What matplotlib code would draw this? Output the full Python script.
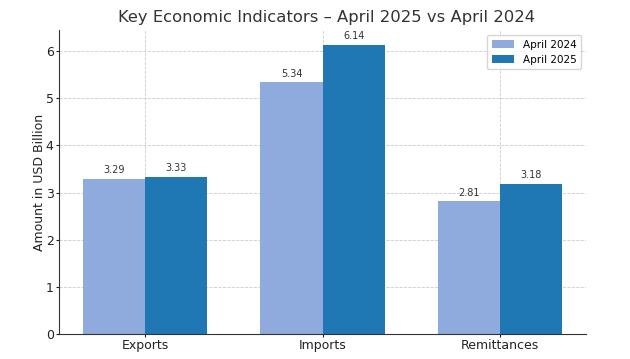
import matplotlib
matplotlib.use("Agg")
import matplotlib.pyplot as plt
import numpy as np

categories = ["Exports", "Imports", "Remittances"]
april_2024 = [3.29, 5.34, 2.81]
april_2025 = [3.33, 6.14, 3.18]
series_labels = ["April 2024", "April 2025"]

fig, ax = plt.subplots(figsize=(6.3, 3.59), dpi=100)
x = np.arange(len(categories))
w = 0.35
b1 = ax.bar(x - w/2, april_2024, w, label=series_labels[0], color="#8faadc")
b2 = ax.bar(x + w/2, april_2025, w, label=series_labels[1], color="#1f77b4")
for bars, vals in ((b1, april_2024), (b2, april_2025)):
    for r, v in zip(bars, vals):
        ax.text(r.get_x() + r.get_width()/2, v + 0.08, f"{v:.2f}",
                ha="center", va="bottom", fontsize=7, color="#333333")

ax.set_xticks(x)
ax.set_xticklabels(categories, fontsize=9)
ax.set_ylabel("Amount in USD Billion", fontsize=9, labelpad=0, color="#222222")
ax.set_title("Key Economic Indicators – April 2025 vs April 2024", fontsize=11.8,
             color="#333333", x=0.507)
ax.grid(True, linestyle="--", color="#cccccc", linewidth=0.6)
ax.set_axisbelow(True)
ax.spines["top"].set_visible(False)
ax.spines["right"].set_visible(False)
for s in ("left", "bottom"):
    ax.spines[s].set_color("#333333")
ax.legend(fontsize=7.5, loc="upper right", handlelength=2.2)
ax.tick_params(labelsize=9, length=2, pad=2, colors="#222222")
fig.subplots_adjust(left=0.094, right=0.930, top=0.916, bottom=0.07)
fig.savefig("out.png", dpi=100)
